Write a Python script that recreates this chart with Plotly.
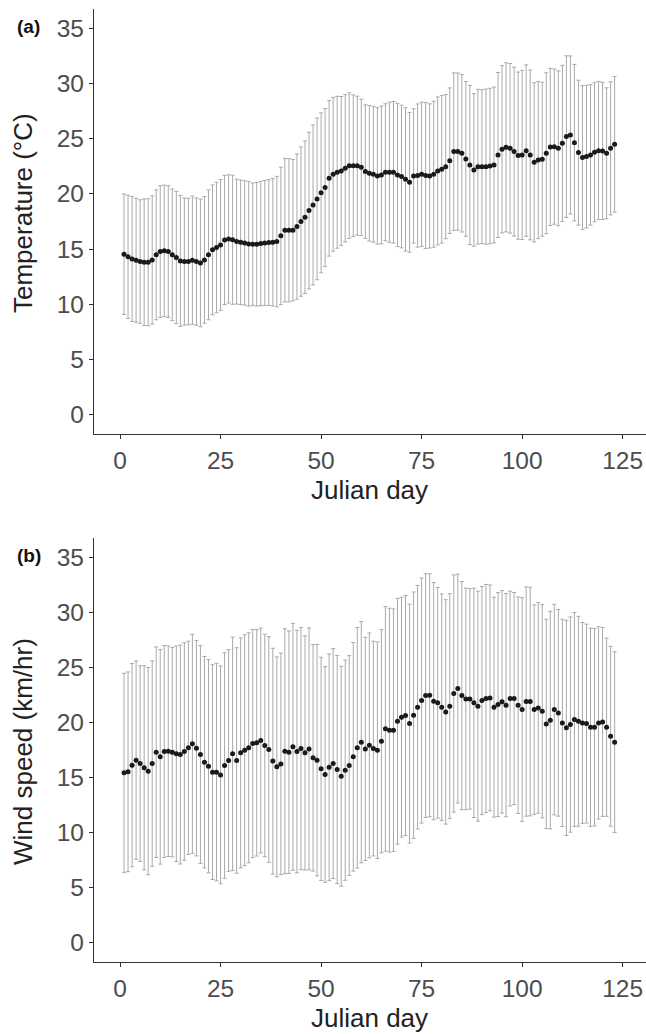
import plotly.graph_objects as go

days = list(range(1, 124))

temp_mean = [
    14.54, 14.30, 14.11, 13.99, 13.87, 13.81, 13.81, 14.02, 14.48, 14.78,
    14.84, 14.78, 14.48, 14.24, 13.93, 13.87, 13.87, 13.99, 13.87, 13.75,
    14.02, 14.48, 14.93, 15.14, 15.38, 15.83, 15.92, 15.85, 15.68, 15.62,
    15.56, 15.47, 15.44, 15.44, 15.50, 15.56, 15.59, 15.62, 15.68, 16.20,
    16.71, 16.71, 16.71, 17.04, 17.49, 17.88, 18.49, 19.00, 19.54, 20.10,
    20.57, 21.41, 21.78, 21.96, 22.08, 22.32, 22.56, 22.56, 22.56, 22.41,
    22.02, 21.87, 21.78, 21.63, 21.72, 21.96, 21.96, 21.96, 21.72, 21.57,
    21.32, 21.05, 21.63, 21.66, 21.78, 21.66, 21.63, 21.78, 22.08, 22.23,
    22.47, 23.01, 23.83, 23.83, 23.68, 23.17, 22.62, 22.17, 22.47, 22.47,
    22.47, 22.53, 22.62, 23.53, 24.04, 24.22, 24.13, 23.83, 23.47, 23.53,
    23.92, 23.53, 22.86, 23.07, 23.14, 23.68, 24.25, 24.28, 24.13, 24.58,
    25.19, 25.34, 24.64, 23.74, 23.29, 23.38, 23.53, 23.77, 23.92, 23.89,
    23.68, 24.13, 24.49,
]

temp_sd = [
    5.46, 5.58, 5.66, 5.61, 5.60, 5.73, 5.76, 5.81, 5.88, 5.96,
    5.96, 5.96, 5.96, 5.99, 5.93, 5.76, 5.73, 5.81, 5.76, 5.78,
    5.73, 5.88, 5.88, 5.91, 5.93, 5.85, 5.81, 5.85, 5.66, 5.64,
    5.64, 5.64, 5.54, 5.60, 5.63, 5.66, 5.70, 5.78, 5.91, 6.23,
    6.49, 6.49, 6.40, 6.58, 6.76, 6.91, 7.09, 7.24, 7.32, 7.24,
    7.16, 7.04, 6.97, 6.88, 6.74, 6.67, 6.59, 6.41, 6.29, 6.18,
    6.05, 6.14, 6.15, 6.18, 6.24, 6.21, 6.35, 6.41, 6.49, 6.46,
    6.49, 6.33, 6.08, 6.49, 6.53, 6.61, 6.53, 6.61, 6.71, 6.68,
    6.53, 6.59, 7.13, 7.12, 7.13, 7.01, 7.21, 6.91, 7.01, 6.97,
    7.03, 7.04, 7.06, 7.47, 7.57, 7.66, 7.68, 7.65, 7.57, 7.66,
    7.77, 7.69, 7.21, 7.12, 6.97, 7.29, 7.12, 7.03, 7.01, 7.07,
    7.32, 7.16, 7.09, 6.56, 6.53, 6.46, 6.36, 6.30, 6.26, 6.21,
    5.93, 6.03, 6.14,
]

wind_mean = [
    15.43, 15.52, 16.12, 16.58, 16.27, 15.88, 15.58, 16.27, 17.30, 16.88,
    17.36, 17.39, 17.30, 17.15, 17.09, 17.36, 17.70, 18.06, 17.66, 17.09,
    16.39, 16.03, 15.49, 15.49, 15.24, 16.09, 16.55, 17.15, 16.55, 17.24,
    17.48, 17.70, 18.09, 18.15, 18.36, 17.91, 17.54, 16.49, 15.97, 16.24,
    17.39, 17.30, 17.79, 17.36, 17.63, 17.24, 17.60, 16.79, 16.58, 15.79,
    15.28, 15.94, 16.27, 15.73, 15.12, 15.67, 16.09, 16.88, 17.70, 18.21,
    17.60, 17.92, 17.63, 17.48, 18.30, 19.42, 19.30, 19.30, 20.11, 20.48,
    20.63, 19.90, 20.66, 21.39, 21.99, 22.44, 22.47, 21.93, 21.78, 21.39,
    20.96, 21.48, 22.63, 23.08, 22.44, 22.14, 22.14, 21.78, 21.48, 21.99,
    22.17, 22.23, 21.39, 21.63, 21.87, 21.57, 22.17, 22.17, 21.57, 21.17,
    21.90, 21.90, 21.17, 21.32, 21.02, 19.87, 20.21, 21.17, 20.87, 19.96,
    19.51, 19.81, 20.27, 20.11, 19.96, 19.90, 19.57, 19.57, 19.96, 20.05,
    19.57, 18.75, 18.21,
]

wind_sd = [
    9.04, 9.07, 9.23, 9.00, 8.88, 9.27, 9.41, 9.33, 9.56, 9.74,
    9.63, 9.56, 9.50, 9.79, 9.94, 9.88, 9.68, 9.94, 9.77, 9.89,
    9.60, 9.68, 9.75, 9.88, 9.89, 10.24, 10.06, 10.60, 10.24, 10.44,
    10.48, 10.44, 10.36, 10.28, 10.21, 10.10, 10.25, 10.25, 9.98, 10.06,
    11.12, 11.01, 11.21, 11.01, 11.00, 10.63, 10.98, 10.28, 10.51, 10.13,
    9.79, 10.28, 10.44, 10.36, 9.98, 10.00, 9.98, 10.38, 10.92, 10.95,
    10.13, 10.21, 9.75, 9.83, 10.13, 11.10, 11.07, 11.01, 11.15, 10.89,
    10.90, 10.84, 11.19, 11.06, 11.12, 11.07, 11.03, 10.77, 10.47, 10.28,
    10.19, 10.21, 10.77, 10.39, 10.36, 10.06, 10.01, 10.41, 10.44, 10.36,
    10.36, 10.25, 9.98, 10.16, 10.10, 10.13, 9.75, 9.63, 9.83, 10.16,
    10.41, 10.38, 9.51, 9.56, 9.68, 9.50, 9.88, 9.56, 9.38, 9.41,
    9.77, 9.77, 9.71, 9.53, 9.12, 9.03, 9.00, 8.97, 8.73, 8.58,
    8.09, 8.17, 8.21,
]

x_ticks = [0, 25, 50, 75, 100, 125]
y_ticks = [0, 5, 10, 15, 20, 25, 30, 35]

W, H = 646, 1034
FONT = "Liberation Sans, Arial, Helvetica, sans-serif"
TICK_COL = "#4d4d4d"
LINE_COL = "#333333"
ERR_COL = "#a9a9a9"

fig = go.Figure()

fig.add_trace(go.Scatter(
    x=days, y=temp_mean, mode="markers", xaxis="x", yaxis="y",
    marker=dict(color="#1a1a1a", size=5),
    error_y=dict(type="data", array=temp_sd, visible=True,
                 color=ERR_COL, thickness=1, width=2),
))
fig.add_trace(go.Scatter(
    x=days, y=wind_mean, mode="markers", xaxis="x2", yaxis="y2",
    marker=dict(color="#1a1a1a", size=5),
    error_y=dict(type="data", array=wind_sd, visible=True,
                 color=ERR_COL, thickness=1, width=2),
))

x_dom = [94 / W, 1.0]
ya_dom = [1 - 434 / H, 1 - 9 / H]
yb_dom = [1 - 962 / H, 1 - 538 / H]

common_x = dict(
    range=[-6.47, 130.8], tickvals=x_ticks, ticks="outside", ticklen=4,
    tickcolor=LINE_COL, showline=True, linecolor=LINE_COL, linewidth=1.3,
    showgrid=False, zeroline=False, domain=x_dom, ticklabeloverflow="allow",
    tickfont=dict(family=FONT, size=24.5, color=TICK_COL),
)
common_y = dict(
    range=[-1.75, 36.75], tickvals=y_ticks, ticks="outside", ticklen=4,
    tickcolor=LINE_COL, showline=True, linecolor=LINE_COL, linewidth=1.3,
    showgrid=False, zeroline=False,
    tickfont=dict(family=FONT, size=24.5, color=TICK_COL),
)

fig.update_layout(
    width=W, height=H,
    margin=dict(l=0, r=0, t=0, b=0),
    plot_bgcolor="white", paper_bgcolor="white",
    showlegend=False,
    xaxis=dict(anchor="y", **common_x),
    yaxis=dict(anchor="x", domain=ya_dom, **common_y),
    xaxis2=dict(anchor="y2", **common_x),
    yaxis2=dict(anchor="x2", domain=yb_dom, **common_y),
)

title_font = dict(family=FONT, size=26, color="#222222")
ann = [
    dict(text="Julian day", x=370 / W, y=1 - 490 / H),
    dict(text="Julian day", x=370 / W, y=1 - 1018 / H),
    dict(text="Temperature (°C)", x=23 / W, y=1 - 213 / H, textangle=-90),
    dict(text="Wind speed (km/hr)", x=23 / W, y=1 - 752 / H, textangle=-90),
]
for a in ann:
    fig.add_annotation(xref="paper", yref="paper", showarrow=False,
                       xanchor="center", yanchor="middle", font=title_font, **a)

for lab, yy in (("(a)", 26), ("(b)", 555)):
    fig.add_annotation(xref="paper", yref="paper", showarrow=False,
                       x=15 / W, y=1 - yy / H, xanchor="left", yanchor="middle",
                       text="<b>" + lab + "</b>",
                       font=dict(family=FONT, size=19, color="#111111"))

fig.write_html(
    "out.html",
    config={"displayModeBar": False},
    post_script="document.body.style.margin='0px';document.body.style.overflow='hidden';",
)
